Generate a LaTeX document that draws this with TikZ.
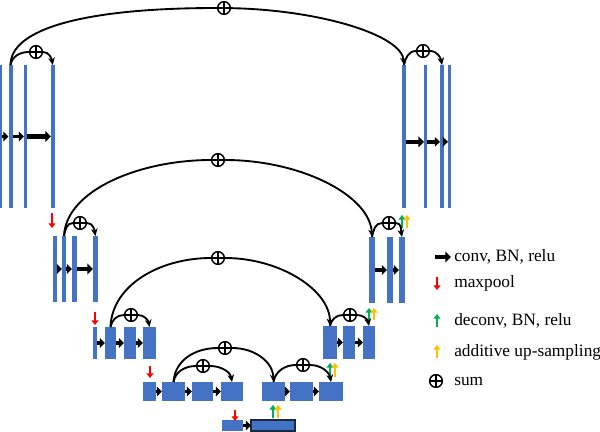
\documentclass[tikz,border=0pt]{standalone}
\usepackage{fontspec}
\setmainfont{Liberation Serif}
\usetikzlibrary{arrows.meta}
\definecolor{barblue}{HTML}{4472C4}
\definecolor{upgreen}{HTML}{00B050}
\definecolor{upyellow}{HTML}{FFC000}
\definecolor{pooled}{HTML}{FF0000}
\newcommand\blk[6][]{\node[blk,#1,minimum width={(#4-#3)*0.75pt},minimum height={(#6-#5)*0.75pt}] (#2) at ({(#3+#4)/2},{(#5+#6)/2}) {};}
\begin{document}
\begin{tikzpicture}[x=0.75pt,y=-0.75pt,
  blk/.style={rectangle,fill=barblue,draw=none,inner sep=0pt,outer sep=0pt},
  conv/.style={line width=2.6pt,-{Triangle[length=3.8pt,width=7pt]}},
  bigconv/.style={line width=3.2pt,-{Triangle[length=4.2pt,width=8pt]}},
  vtip/.style={line width=1.7pt,-{Triangle[length=3.5pt,width=5.2pt]}},
  pool/.style={vtip,draw=pooled},
  deconv/.style={vtip,draw=upgreen},
  addup/.style={vtip,draw=upyellow},
  sumnode/.style={circle,draw,fill=white,line width=1.1pt,minimum size=9.5pt,inner sep=0pt,
    path picture={\draw[line width=1.1pt] (path picture bounding box.north) -- (path picture bounding box.south)
      (path picture bounding box.west) -- (path picture bounding box.east);}},
  skipline/.style={line width=1.4pt},
  skiparrow/.style={line width=1.4pt,-{Stealth[length=5.5pt,width=5pt]}},
  legtext/.style={anchor=west,font=\fontsize{13pt}{15pt}\selectfont,inner sep=0pt}
]
\useasboundingbox (0,0) rectangle (600,432);

% ---- level 1
\blk{La1}{0}{2}{65}{208}
\blk{La2}{8.5}{12.5}{65}{208}
\blk{La3}{24}{27}{65}{208}
\blk{La4}{51}{54.5}{65}{208}
\blk{Ra1}{402}{406}{65}{208}
\blk{Ra2}{424}{427}{65}{208}
\blk{Ra3}{440}{444}{65}{208}
\blk{Ra4}{448}{451}{65}{208}
\draw[conv] (La1.east) -- (La2.west);
\draw[conv] (La2.east) -- (La3.west);
\draw[bigconv] (La3.east) -- (La4.west);
\draw[bigconv] ([yshift=-4pt]Ra1.east) -- ([yshift=-4pt]Ra2.west);
\draw[conv] ([yshift=-4pt]Ra2.east) -- ([yshift=-4pt]Ra3.west);
\draw[conv] ([yshift=-4pt]Ra3.east) -- ([yshift=-4pt]Ra4.west);

% ---- level 2
\blk{Lb1}{53}{56.5}{236}{302}
\blk{Lb2}{62}{66}{236}{302}
\blk{Lb3}{72}{77}{236}{302}
\blk{Lb4}{93}{98}{236}{302}
\blk{Rb1}{369}{375}{237}{303}
\blk{Rb2}{387}{393}{237}{303}
\blk{Rb3}{399}{405}{237}{303}
\draw[conv] (Lb1.east) -- (Lb2.west);
\draw[conv] (Lb2.east) -- (Lb3.west);
\draw[bigconv] (Lb3.east) -- (Lb4.west);
\draw[conv] (Rb1.east) -- (Rb2.west);
\draw[conv] (Rb2.east) -- (Rb3.west);

% ---- level 3
\blk{Lc1}{93}{97}{327}{359}
\blk{Lc2}{105}{116}{327}{359}
\blk{Lc3}{124}{136}{327}{359}
\blk{Lc4}{143}{156}{327}{359}
\blk{Rc1}{323}{337}{326}{359}
\blk{Rc2}{343}{355}{326}{359}
\blk{Rc3}{363}{375}{326}{359}
\draw[conv] (Lc1.east) -- (Lc2.west);
\draw[conv] (Lc2.east) -- (Lc3.west);
\draw[conv] (Lc3.east) -- (Lc4.west);
\draw[conv] (Rc1.east) -- (Rc2.west);
\draw[conv] (Rc2.east) -- (Rc3.west);

% ---- level 4
\blk{Ld1}{143}{156}{382}{401}
\blk{Ld2}{162}{185}{382}{401}
\blk{Ld3}{192}{213}{382}{401}
\blk{Ld4}{221}{243}{382}{401}
\blk{Rd1}{262}{285}{382}{401}
\blk{Rd2}{290}{313}{382}{401}
\blk{Rd3}{319}{343}{382}{401}
\draw[conv] (Ld1.east) -- (Ld2.west);
\draw[conv] (Ld2.east) -- (Ld3.west);
\draw[conv] (Ld3.east) -- (Ld4.west);
\draw[conv] (Rd1.east) -- (Rd2.west);
\draw[conv] (Rd2.east) -- (Rd3.west);

% ---- level 5
\blk{Le1}{222}{243}{420}{431}
\blk[draw=black!65!barblue,line width=1pt]{Le2}{251}{295}{420}{431}
\draw[conv] (Le1.east) -- (Le2.west);

% ---- pooling / upsampling arrows
\coordinate (p1a) at (52,213); \coordinate (p1b) at (52,228);
\coordinate (p2a) at (95,312); \coordinate (p2b) at (95,325);
\coordinate (p3a) at (150,366); \coordinate (p3b) at (150,378);
\coordinate (p4a) at (235,410); \coordinate (p4b) at (235,421);
\draw[pool] (p1a) -- (p1b);
\draw[pool] (p2a) -- (p2b);
\draw[pool] (p3a) -- (p3b);
\draw[pool] (p4a) -- (p4b);
\foreach \nm/\x/\ya/\yb in {u1/402/228/215, u2/369/320/308, u3/330/377/363, u4/273/418/405}{
  \coordinate (\nm ga) at (\x,\ya); \coordinate (\nm gb) at (\x,\yb);
  \coordinate (\nm ya) at (\x+5,\ya); \coordinate (\nm yb) at (\x+5,\yb);
  \draw[deconv] (\nm ga) -- (\nm gb);
  \draw[addup] (\nm ya) -- (\nm yb);
}

% ---- sum nodes
\node[sumnode] (S1) at (224,8) {};
\node[sumnode] (S2) at (218,160) {};
\node[sumnode] (S3) at (218,258) {};
\node[sumnode] (S4) at (225,348) {};
\node[sumnode] (s1a) at (36,52) {};
\node[sumnode] (s1b) at (423,51) {};
\node[sumnode] (s2a) at (80,223) {};
\node[sumnode] (s2b) at (389,223) {};
\node[sumnode] (s3a) at (131,315) {};
\node[sumnode] (s3b) at (350,315) {};
\node[sumnode] (s4a) at (203,366) {};
\node[sumnode] (s4b) at (303,365) {};

% ---- long skip arcs
\draw[skipline] (La2.north) .. controls (10.5,30) and (80,8) .. (S1);
\draw[skiparrow] (S1) .. controls (320,10) and (402,35) .. (Ra1.north);
\draw[skipline] (Lb2.north) .. controls (66,190) and (140,160) .. (S2);
\draw[skiparrow] (S2) .. controls (300,160) and (370,195) .. (Rb1.north);
\draw[skipline] (Lc2.north) .. controls (112,285) and (160,258) .. (S3);
\draw[skiparrow] (S3) .. controls (280,258) and (330,290) .. (Rc1.north);
\draw[skipline] (Ld2.north) .. controls (175,360) and (195,348) .. (S4);
\draw[skiparrow] (S4) .. controls (255,348) and (273,362) .. (Rd1.north);

% ---- short skip arcs
\foreach \a/\s/\b in {La2/s1a/La4, Ra1/s1b/Ra3, Lb2/s2a/Lb4, Rb1/s2b/Rb3,
                     Lc2/s3a/Lc4, Rc1/s3b/Rc3, Ld2/s4a/Ld4, Rd1/s4b/Rd3}{
  \draw[skipline] (\a.north) to[out=80,in=180] (\s);
  \draw[skiparrow] (\s) to[out=0,in=100] (\b.north);
}

% ---- legend
\coordinate (k1a) at (435,257); \coordinate (k1b) at (451,257);
\draw[bigconv] (k1a) -- (k1b);
\node[legtext] (t1) at (454,257) {conv, BN, relu};
\coordinate (k2a) at (437,277); \coordinate (k2b) at (437,290);
\draw[pool] (k2a) -- (k2b);
\node[legtext] (t2) at (454,283) {maxpool};
\coordinate (k3a) at (437,327); \coordinate (k3b) at (437,314);
\draw[deconv] (k3a) -- (k3b);
\node[legtext] (t3) at (454,321) {deconv, BN, relu};
\coordinate (k4a) at (437,358); \coordinate (k4b) at (437,345);
\draw[addup] (k4a) -- (k4b);
\node[legtext] (t4) at (454,352) {additive up-sampling};
\node[sumnode] (k5) at (436,381) {};
\node[legtext] (t5) at (454,381) {sum};
\end{tikzpicture}
\end{document}
